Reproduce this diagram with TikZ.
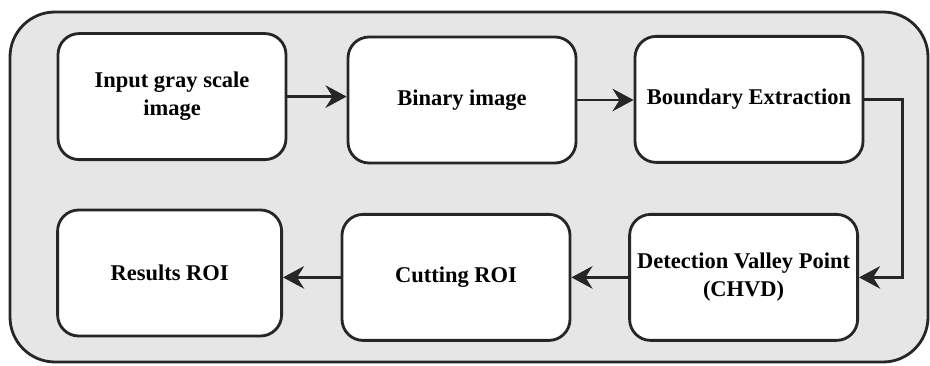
\documentclass[tikz,border=0pt]{standalone}
\usepackage{fontspec}
\setmainfont{Liberation Serif}
\usepackage{xcolor}
\usepackage{tikz}
\usetikzlibrary{arrows.meta, positioning, backgrounds}

\definecolor{panelgray}{HTML}{E6E6E6}
\definecolor{edgegray}{HTML}{262626}

\begin{document}
\begin{tikzpicture}[
    stepbox/.style={rectangle, rounded corners=15pt, draw=edgegray, line width=2pt, fill=white, minimum width=5.7cm, minimum height=3.15cm, align=center, font=\fontsize{16}{20}\selectfont\bfseries},
    arrow/.style={-{Stealth[length=15pt, width=16pt, inset=5pt]}, line width=2pt, edgegray},
    panel/.style={rounded corners=32pt, draw=edgegray, line width=2pt, fill=panelgray}
]
\useasboundingbox (0,0) rectangle (23.25,9.125);

% === Background panel ===
\draw[panel] (0.25,0.075) rectangle (23.2,8.825);

% === Top row ===
\node[stepbox] (input) at (4.3,6.71) {Input gray scale\\image};
\node[stepbox] (binary) at (11.55,6.625) {Binary image};
\node[stepbox] (boundary) at (18.725,6.64) {Boundary Extraction};

% === Bottom row ===
\node[stepbox] (valley) at (18.59,2.19) {Detection Valley Point\\(CHVD)};
\node[stepbox] (cutting) at (11.4,2.19) {Cutting ROI};
\node[stepbox, minimum width=5.6cm] (results) at (4.24,2.3) {Results ROI};

% === Flow arrows ===
\draw[arrow] (input.east) -- (input.east -| binary.west);
\draw[arrow] (binary.east) -- (binary.east -| boundary.west);
\draw[arrow] (boundary.east) -- ++(0.95,0) |- (valley.east);
\draw[arrow] (valley.west) -- (valley.west -| cutting.east);
\draw[arrow] (cutting.west) -- (cutting.west -| results.east);

\end{tikzpicture}
\end{document}
